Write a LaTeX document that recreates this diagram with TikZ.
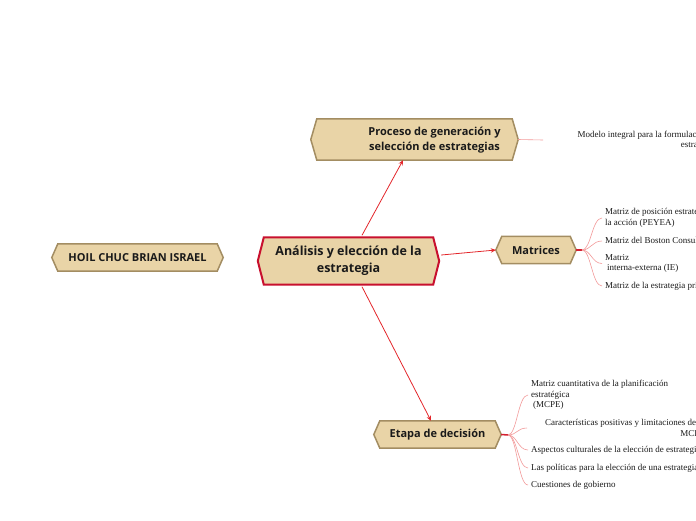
\documentclass[tikz,border=0pt]{standalone}
\usepackage{fontspec}
\setmainfont{Liberation Serif}
\newfontfamily\nodefont{Open Sans}
\usetikzlibrary{calc,backgrounds,arrows.meta}
\definecolor{tanfill}{HTML}{E9D4A7}
\definecolor{tanborder}{HTML}{A38D62}
\definecolor{crimson}{HTML}{C8102E}
\definecolor{arrowred}{HTML}{E3262B}
\definecolor{leafpink}{HTML}{F29A9A}
\definecolor{stubred}{HTML}{D42030}
\definecolor{inkc}{HTML}{1A1A1A}
\newcommand\hexbox[3]{%
  \draw[#3] ($(#1.north west)+(#2,0)$) -- ($(#1.north east)+(-#2,0)$) -- (#1.east)
    -- ($(#1.south east)+(-#2,0)$) -- ($(#1.south west)+(#2,0)$) -- (#1.west) -- cycle;}
\begin{document}
\begin{tikzpicture}[x=1pt,y=-1pt,
  boxnode/.style={inner sep=0pt,text=inkc,font=\nodefont\bfseries\fontsize{11}{15}\selectfont,align=center},
  tanhex/.style={fill=tanfill,draw=tanborder,line width=1.5pt,line join=miter},
  mainhex/.style={fill=tanfill,draw=crimson,line width=2pt,line join=miter},
  leaf/.style={inner xsep=3pt,inner ysep=0pt,text=inkc,font=\fontsize{9}{10.5}\selectfont},
  arr/.style={draw=arrowred,line width=0.8pt,-{Stealth[length=5pt,width=4.5pt]}},
  twig/.style={draw=leafpink,line width=0.6pt},
  stub/.style={draw=stubred,line width=1.5pt}]
\useasboundingbox (0,0) rectangle (696,520);
\clip (0,0) rectangle (696,520);

% main nodes
\node[boxnode,minimum width=181pt,minimum height=47pt,font=\nodefont\bfseries\fontsize{12.5}{17}\selectfont] (main) at (348.5,261) {Análisis y elección de la\\estrategia};
\node[boxnode,minimum width=207pt,minimum height=41pt,font=\nodefont\bfseries\fontsize{11}{15}\selectfont] (proc) at (414.5,139.5) {\hspace*{40pt}\begin{tabular}{@{}c@{}}Proceso de generación y\\selección de estrategias\end{tabular}};
\node[boxnode,minimum width=80pt,minimum height=27pt] (matr) at (536,250) {Matrices};
\node[boxnode,minimum width=171pt,minimum height=27pt,font=\nodefont\bfseries\fontsize{11}{14}\selectfont] (hoil) at (137.5,257.5) {HOIL CHUC BRIAN ISRAEL};
\node[boxnode,minimum width=127pt,minimum height=27pt] (etapa) at (437.5,434.5) {Etapa de decisión};

\begin{scope}[on background layer]
\hexbox{main}{6}{mainhex}
\hexbox{proc}{6}{tanhex}
\hexbox{matr}{6}{tanhex}
\hexbox{hoil}{6}{tanhex}
\hexbox{etapa}{6}{tanhex}
\end{scope}

% arrows
\draw[arr] ($(main.north)+(13.5,-2)$) -- ($(proc.south)+(-11.5,0)$);
\draw[arr] ($(main.east)+(2,-6)$) -- (matr.west);
\draw[arr] ($(main.south)+(13.5,2)$) -- ($(etapa.north)+(-6.5,0)$);

% leaves of Proceso
\node[leaf,anchor=east,align=right] (p1) at (722,140.5) {Modelo integral para la formulación de\\estrategias};
\coordinate (p1end) at (543,140);
\draw[twig] (proc.east) -- (p1end);

% leaves of Matrices
\node[leaf,anchor=west,align=left] (m1) at (602,218) {Matriz de posición estratégica y evaluación de\\la acción (PEYEA)};
\node[leaf,anchor=west,align=left] (m2) at (602,241) {Matriz del Boston Consulting Group (BCG)};
\node[leaf,anchor=west,align=left] (m3) at (602,263.5) {Matriz\\\hspace*{2pt}interna-externa (IE)};
\node[leaf,anchor=west,align=left] (m4) at (602,286) {Matriz de la estrategia principal};
\coordinate (mo) at (582,250);
\draw[stub] (matr.east) -- (mo);
\foreach \t in {m1,m2,m3,m4}
  \draw[twig] (mo) .. controls ($(mo)+(9,0)$) and ($(\t.west)+(-10,0)$) .. (\t.west);

% leaves of Etapa
\node[leaf,anchor=west,align=left] (e1) at (528,395) {Matriz cuantitativa de la planificación\\estratégica\\\hspace*{2pt}(MCPE)};
\node[leaf,anchor=east,align=right] (e2) at (708,428) {Características positivas y limitaciones de la\\MCPE};
\node[leaf,anchor=west,align=left] (e3) at (528,450) {Aspectos culturales de la elección de estrategias};
\node[leaf,anchor=west,align=left] (e4) at (528,468) {Las políticas para la elección de una estrategia};
\node[leaf,anchor=west,align=left] (e5) at (528,485) {Cuestiones de gobierno};
\coordinate (eo) at (508,435);
\coordinate (e2end) at (527,428);
\draw[stub] (etapa.east) -- (eo);
\foreach \t in {e1,e3,e4,e5}
  \draw[twig] (eo) .. controls ($(eo)+(9,0)$) and ($(\t.west)+(-10,0)$) .. (\t.west);
\draw[twig] (eo) .. controls ($(eo)+(9,0)$) and ($(e2end)+(-10,0)$) .. (e2end);
\end{tikzpicture}
\end{document}
